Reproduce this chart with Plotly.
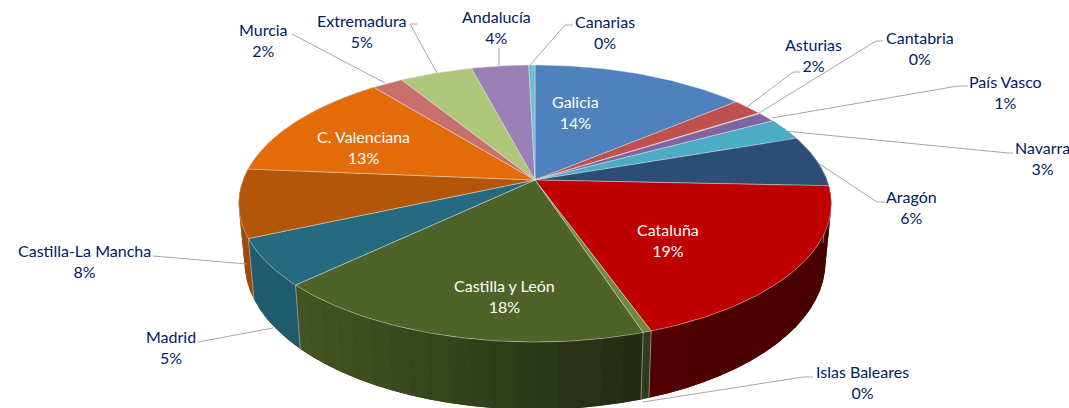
import numpy as np
import plotly.graph_objects as go

regions = ["Galicia", "Asturias", "Cantabria", "País Vasco", "Navarra", "Aragón", "Cataluña",
           "Islas Baleares", "Castilla y León", "Madrid", "Castilla-La Mancha", "C. Valenciana",
           "Murcia", "Extremadura", "Andalucía", "Canarias"]
shares = [13.9, 2.0, 0.1, 1.2, 2.6, 6.0, 19.0, 0.4, 18.0, 5.5, 8.0, 13.0, 2.0, 4.7, 3.7, 0.4]
shown = ["14%", "2%", "0%", "1%", "3%", "6%", "19%", "0%", "18%", "5%", "8%", "13%", "2%", "5%", "4%", "0%"]
colors = ["#4F81BD", "#C0504D", "#9BBB59", "#8064A2", "#4BACC6", "#2C4D75", "#C00000", "#6F8A3F",
          "#4F6228", "#256A7F", "#B45607", "#E36C09", "#C9706F", "#AEC77A", "#9A80B4", "#70BFD5"]
label_xy = [(575, 112), (813, 55), (920, 48), (1005, 92), (1042, 158), (911, 207), (668, 240),
            (862, 382), (504, 296), (171, 347), (84, 261), (363, 147), (263, 40), (362, 31),
            (496, 27), (605, 32)]
inside = [True, False, False, False, False, False, True, False, True, False, False, True,
          False, False, False, False]
leaders = [
    None,
    [(800, 72), (793, 72), (747, 107)],
    [(883, 41), (876, 41), (759, 113)],
    [(968, 86), (958, 86), (772, 118)],
    [(1013, 153), (1008, 153), (785, 131)],
    [(885, 202), (877, 202), (818, 163)],
    None,
    [(813, 377), (803, 377), (643, 402)],
    None,
    [(198, 342), (273, 328)],
    [(153, 256), (247, 264)],
    None,
    [(292, 34), (385, 83)],
    [(417, 24), (410, 24), (437, 73)],
    [(499, 48), (499, 66)],
    [(573, 25), (565, 25), (530, 65)],
]

CX, CY, R, S, P = 535.0, 180.0, 292.0, 134.5, 0.17
BOT_X, BOT_Y, BOT_CY = 0.98, 1.065, 237.0


def top(theta):
    u, v = np.sin(theta), np.cos(theta)
    w = 1 + P * v
    return CX + R * u / w, CY - S * v / w


def bottom(theta):
    x, y = top(theta)
    return CX + BOT_X * (x - CX), BOT_CY + BOT_Y * (y - CY)


def factor(x):
    return float(np.interp(x, [245, 300, 650, 830], [0.88, 0.86, 0.44, 0.38]))


def shade(color, f):
    r, g, b = int(color[1:3], 16), int(color[3:5], 16), int(color[5:7], 16)
    return f"rgb({int(r*f)},{int(g*f)},{int(b*f)})"


edges = np.concatenate([[0], np.cumsum(shares)]) / np.sum(shares) * 2 * np.pi
fig = go.Figure()


def poly(xs, ys, fill, line_color="rgba(0,0,0,0)", width=0):
    fig.add_trace(go.Scatter(x=list(xs), y=list(ys), mode="lines", fill="toself", fillcolor=fill,
                             line=dict(color=line_color, width=width), hoverinfo="skip",
                             showlegend=False))


# side wall: a plain base per wedge, then narrow strips for the horizontal shading
for i, c in enumerate(colors):
    a0, a1 = edges[i], edges[i + 1]
    if np.cos(a0) > 0.35 and np.cos(a1) > 0.35:
        continue
    n = max(2, int((a1 - a0) / np.radians(3.5)))
    th = np.linspace(a0, a1, n + 1)
    xt, yt = top(th)
    xb, yb = bottom(th)
    base = shade(c, factor(top((a0 + a1) / 2)[0]))
    poly(np.r_[xt, xb[::-1], xt[0]], np.r_[yt, yb[::-1], yt[0]], base)
    for j in range(n):
        col = shade(c, factor((xt[j] + xt[j + 1]) / 2))
        poly([xt[j], xt[j + 1], xb[j + 1], xb[j], xt[j]], [yt[j], yt[j + 1], yb[j + 1], yb[j], yt[j]], col)

for i in range(len(colors)):
    a1 = edges[i + 1]
    if np.cos(a1) < 0.0:
        xt, yt = top(np.array([a1]))
        xb, yb = bottom(np.array([a1]))
        fig.add_trace(go.Scatter(x=[xt[0], xb[0]], y=[yt[0], yb[0]], mode="lines",
                                 line=dict(color="rgba(200,205,200,0.55)", width=1),
                                 hoverinfo="skip", showlegend=False))

# top face
for i, c in enumerate(colors):
    th = np.linspace(edges[i], edges[i + 1], max(4, int((edges[i + 1] - edges[i]) / np.radians(1)) + 2))
    x, y = top(th)
    poly(np.r_[CX, x, CX], np.r_[CY, y, CY], c, "rgba(225,230,230,0.55)", 0.8)

# leader lines
for pts in leaders:
    if pts:
        fig.add_trace(go.Scatter(x=[p[0] for p in pts], y=[p[1] for p in pts], mode="lines",
                                 line=dict(color="#A6A6A6", width=1), hoverinfo="skip", showlegend=False))

for name, pct, (lx, ly), ins in zip(regions, shown, label_xy, inside):
    fig.add_annotation(x=lx, y=ly, xref="x", yref="y", text=f"{name}<br>{pct}", showarrow=False,
                       font=dict(family="Lato", size=16, color="#FFFFFF" if ins else "#002060"),
                       align="center", xanchor="center", yanchor="middle")

fig.update_layout(width=1069, height=408, margin=dict(l=0, r=0, t=0, b=0), showlegend=False,
                  paper_bgcolor="white", plot_bgcolor="white",
                  xaxis=dict(range=[0, 1069], visible=False, fixedrange=True),
                  yaxis=dict(range=[408, 0], visible=False, fixedrange=True))
fig.write_html("out.html", post_script="document.body.style.margin='0';document.body.style.overflow='hidden';",
               config={"displayModeBar": False})
